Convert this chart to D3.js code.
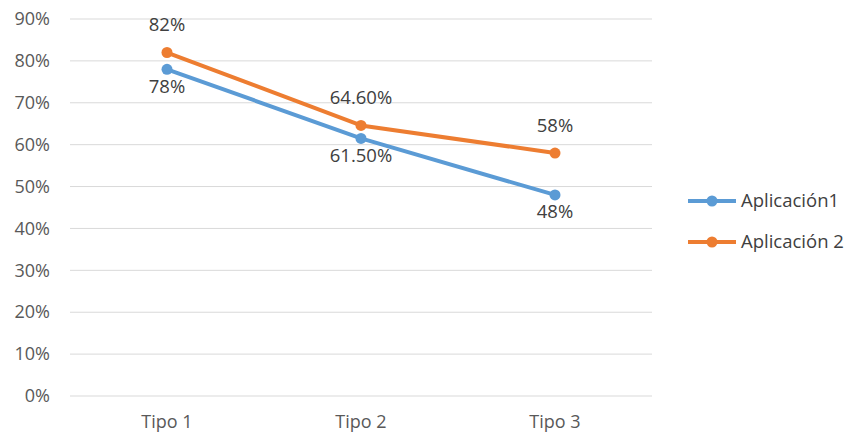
<!DOCTYPE html>
<html>
<head>
<meta charset="utf-8">
<script src="https://cdn.jsdelivr.net/npm/d3@7"></script>
<style>
  body { margin: 0; background: #fff; }
</style>
</head>
<body>
<div id="chart"></div>
<script>
var categories = ["Tipo 1", "Tipo 2", "Tipo 3"];
var seriesNames = ["Aplicación1", "Aplicación 2"];
var app1 = [0.78, 0.615, 0.48];
var app2 = [0.82, 0.646, 0.58];
var app1Labels = ["78%", "61.50%", "48%"];
var app2Labels = ["82%", "64.60%", "58%"];
var yTicks = [0, 0.1, 0.2, 0.3, 0.4, 0.5, 0.6, 0.7, 0.8, 0.9];

var W = 850, H = 434;
var plotLeft = 70, plotRight = 652, plotTop = 19, plotBottom = 396;

var svg = d3.select("#chart").append("svg")
    .attr("width", W)
    .attr("height", H);

var x = d3.scaleBand().domain(categories).range([plotLeft, plotRight]);
var y = d3.scaleLinear().domain([0, 0.9]).range([plotBottom, plotTop]);

// gridlines
svg.append("g")
    .selectAll("line")
    .data(yTicks)
    .enter()
    .append("line")
    .attr("x1", plotLeft)
    .attr("x2", plotRight)
    .attr("y1", function (d) { return y(d); })
    .attr("y2", function (d) { return y(d); })
    .attr("stroke", "#d9d9d9")
    .attr("stroke-width", 1);

// y axis labels
var yAxis = svg.append("g")
    .attr("transform", "translate(" + (plotLeft - 20) + ",0)")
    .call(d3.axisLeft(y).tickValues(yTicks).tickSize(0).tickFormat(d3.format(".0%")));
yAxis.select(".domain").remove();
yAxis.selectAll("text")
    .attr("x", 0)
    .style("font-family", "'Liberation Sans Narrow', 'Open Sans', sans-serif")
    .style("font-size", "18px")
    .attr("fill", "#595959");

// x axis labels
var xAxis = svg.append("g")
    .attr("transform", "translate(0," + plotBottom + ")")
    .call(d3.axisBottom(x).tickSize(0));
xAxis.select(".domain").remove();
xAxis.selectAll("text")
    .attr("y", 19)
    .style("font-family", "'Liberation Sans Narrow', 'Open Sans', sans-serif")
    .style("font-size", "18px")
    .attr("fill", "#595959");

var series = [
    { name: seriesNames[0], values: app1, labels: app1Labels, color: "#5B9BD5", dy: 17 },
    { name: seriesNames[1], values: app2, labels: app2Labels, color: "#ED7D31", dy: -28 }
];

var line = d3.line()
    .x(function (d, i) { return x(categories[i]) + x.bandwidth() / 2; })
    .y(function (d) { return y(d); });

series.forEach(function (s) {
    svg.append("path")
        .datum(s.values)
        .attr("d", line)
        .attr("fill", "none")
        .attr("stroke", s.color)
        .attr("stroke-width", 4)
        .attr("stroke-linejoin", "round");

    svg.selectAll(null)
        .data(s.values)
        .enter()
        .append("circle")
        .attr("cx", function (d, i) { return x(categories[i]) + x.bandwidth() / 2; })
        .attr("cy", function (d) { return y(d); })
        .attr("r", 5.5)
        .attr("fill", s.color);
});

// data labels
series.forEach(function (s) {
    svg.selectAll(null)
        .data(s.values)
        .enter()
        .append("text")
        .attr("x", function (d, i) { return x(categories[i]) + x.bandwidth() / 2; })
        .attr("y", function (d) { return y(d) + s.dy; })
        .attr("dy", "0.35em")
        .attr("text-anchor", "middle")
        .style("font-family", "'Open Sans', sans-serif")
        .style("font-size", "18.5px")
        .attr("fill", "#404040")
        .text(function (d, i) { return s.labels[i]; });
});

// legend
var legend = svg.append("g")
    .selectAll("g")
    .data(series)
    .enter()
    .append("g")
    .attr("transform", function (d, i) { return "translate(688," + (201 + i * 41) + ")"; });

legend.append("line")
    .attr("x1", 0)
    .attr("x2", 48)
    .attr("stroke", function (d) { return d.color; })
    .attr("stroke-width", 4);

legend.append("circle")
    .attr("cx", 24)
    .attr("r", 5.5)
    .attr("fill", function (d) { return d.color; });

legend.append("text")
    .attr("x", 53)
    .attr("dy", "0.35em")
    .style("font-family", "'Open Sans', sans-serif")
    .style("font-size", "18.5px")
    .attr("fill", "#404040")
    .text(function (d) { return d.name; });
</script>
</body>
</html>
